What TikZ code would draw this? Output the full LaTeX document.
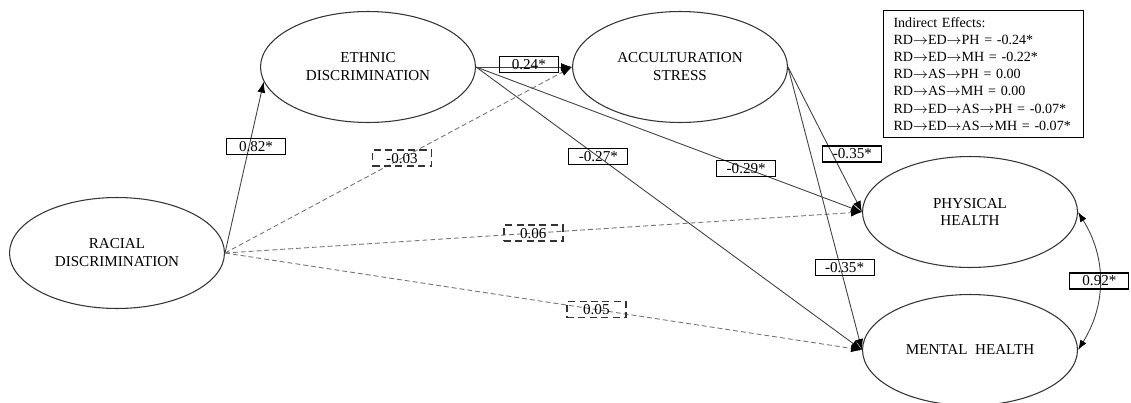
\documentclass[tikz,border=0pt]{standalone}
\usepackage{fontspec}
\setmainfont{Liberation Serif}
\usetikzlibrary{arrows.meta, shapes.geometric}
\tikzset{
  latent/.style={draw=black!80, ellipse, line width=0.6pt, minimum width=4.3cm, minimum height=2.22cm, inner sep=0pt, align=center, font=\fontsize{8.6}{10.2}\selectfont},
  coef/.style={draw=black, text=black, solid, line width=0.6pt, minimum width=1.18cm, minimum height=0.32cm, inner sep=1pt, font=\fontsize{8.6}{10}\selectfont},
  dcoef/.style={coef, draw=black!80, line width=0.8pt, dash pattern=on 4pt off 2.5pt},
  arr/.style={-{Latex[length=2.2mm, width=1.6mm, color=black]}, draw=black!75, line width=0.5pt},
  darr/.style={arr, draw=black!55, dash pattern=on 2.8pt off 1.7pt},
  biarr/.style={{Latex[length=2mm, width=1.4mm, color=black]}-{Latex[length=2mm, width=1.4mm, color=black]}, draw=black!75, line width=0.5pt},
}
\newcommand\ra{$\rightarrow$}
\begin{document}
\begin{tikzpicture}[x=0.02cm, y=-0.02cm]
    \useasboundingbox (0,0) rectangle (1131,402);
    % constructs
    \node[latent] (RD) at (117,253) {RACIAL\\DISCRIMINATION};
    \node[latent] (ED) at (368,67) {ETHNIC\\DISCRIMINATION};
    \node[latent] (AS) at (680,67) {ACCULTURATION\\STRESS};
    \node[latent] (PH) at (970,212) {PHYSICAL\\HEALTH};
    \node[latent] (MH) at (970,350) {MENTAL\ \ HEALTH};
    % indirect effects
    \node[draw, line width=0.6pt, anchor=north west, text width=3.6cm, inner xsep=0.2cm, inner ysep=0.12cm,
      minimum height=2.54cm, align=left, font=\fontsize{8}{9.75}\selectfont] (ind) at (883,10)
      {Indirect Effects:\\
       RD\ra ED\ra PH = -0.24*\\
       RD\ra ED\ra MH = -0.22*\\
       RD\ra AS\ra PH = 0.00\\
       RD\ra AS\ra MH = 0.00\\
       RD\ra ED\ra AS\ra PH = -0.07*\\
       RD\ra ED\ra AS\ra MH = -0.07*};
    % paths
    \draw[arr] (RD.east) -- node[coef, pos=0.62, xshift=0.14cm] (c1) {0.82*} (ED.188);
    \draw[darr] (RD.east) -- node[dcoef, pos=0.51] (c2) {-0.03} (AS.west);
    \draw[darr] (RD.east) -- node[dcoef, pos=0.484] (c3) {0.06} (PH.west);
    \draw[darr] (RD.east) -- node[dcoef, pos=0.583] (c4) {0.05} (MH.west);
    \draw[arr] (ED.east) -- node[coef, pos=0.55, yshift=0.05cm] (c5) {0.24*} (AS.west);
    \draw[arr] (ED.east) -- node[coef, pos=0.70] (c6) {-0.29*} (PH.west);
    \draw[arr] (ED.east) -- node[coef, pos=0.317] (c7) {-0.27*} (MH.west);
    \draw[arr] (AS.east) -- node[coef, pos=0.6, xshift=0.4cm] (c8) {-0.35*} (PH.west);
    \draw[arr] (AS.east) -- node[coef, pos=0.71, xshift=0.08cm] (c9) {-0.35*} (MH.west);
    \draw[biarr] (PH.east) to[bend left=32] node[coef] (c10) {0.92*} (MH.east);
\end{tikzpicture}
\end{document}
